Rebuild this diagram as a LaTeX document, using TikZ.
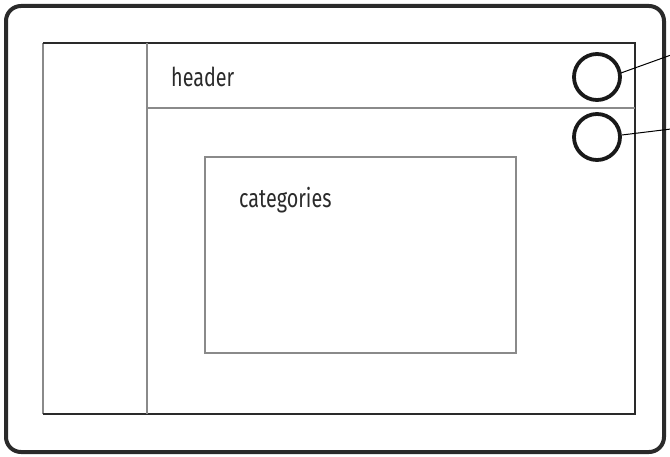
\documentclass[tikz,border=0pt]{standalone}
\usepackage{fontspec}
\setmainfont{Fira Sans}
\definecolor{dk}{HTML}{2A2A2A}
\definecolor{gr}{HTML}{8A8A8A}
\newcommand{\narrowtext}[1]{\scalebox{0.76}[1]{#1}}
\begin{document}
\begin{tikzpicture}[x=1pt,y=-1pt,
  darkline/.style={draw=dk,line width=2pt},
  grayline/.style={draw=gr,line width=2pt},
  knob/.style={circle,draw=black!90,line width=3.8pt,minimum size=46pt,inner sep=0pt},
  lbl/.style={font=\fontsize{26}{30}\selectfont,text=dk,inner sep=0pt,anchor=base west}]
\useasboundingbox (0,0) rectangle (670,457);
\draw[draw=dk,line width=4pt,rounded corners=15pt] (6,6) rectangle (664,452);
% inner frame
\draw[grayline] (43,43) -- (43,414);
\draw[darkline] (43,43) -- (635,43) -- (635,414) -- (43,414);
\draw[grayline] (147,43) -- (147,414);
\draw[grayline] (147,108) -- (635,108);
% categories box
\draw[grayline] (205,157) rectangle (516,353);
\node[lbl] (header) at (171,87) {\narrowtext{header}};
\node[lbl] (cat) at (239,208) {\narrowtext{categories}};
% knobs
\node[knob] (k1) at (597,77) {};
\node[knob] (k2) at (597,137) {};
\coordinate (e1) at (671,55);
\coordinate (e2) at (671,129);
\draw[black,line width=1pt] (k1.east) ++(-1,-4) -- (e1);
\draw[black,line width=1pt] (k2.east) ++(0,-2) -- (e2);
\end{tikzpicture}
\end{document}
